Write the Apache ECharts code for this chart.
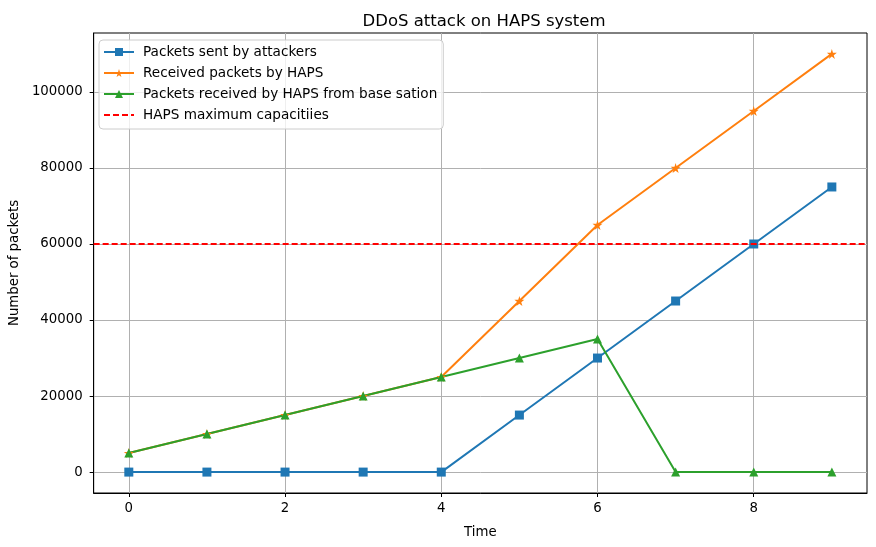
<!DOCTYPE html>
<html>
<head>
<meta charset="utf-8">
<script src="https://cdn.jsdelivr.net/npm/echarts@6/dist/echarts.min.js"></script>
<style>
  html, body { margin: 0; padding: 0; background: #fff; }
  #chart { width: 876px; height: 547px; }
</style>
</head>
<body>
<div id="chart"></div>
<script>
  const times = [0, 1, 2, 3, 4, 5, 6, 7, 8, 9]
  const sentByAttackers = [0, 0, 0, 0, 0, 15000, 30000, 45000, 60000, 75000]
  const receivedByHaps = [5000, 10000, 15000, 20000, 25000, 45000, 65000, 80000, 95000, 110000]
  const fromBaseStation = [5000, 10000, 15000, 20000, 25000, 30000, 35000, 0, 0, 0]
  const hapsCapacity = 60000
  const xTicks = [0, 2, 4, 6, 8]
  const yTicks = [0, 20000, 40000, 60000, 80000, 100000]

  const font = 'DejaVu Sans'
  const fs = 13.3
  const star = 'path://M50,0 L61,35 L98,35 L68,57 L79,91 L50,70 L21,91 L32,57 L2,35 L39,35 Z'

  const pairs = (vals) => times.map((t, i) => [t, vals[i]])

  const chart = echarts.init(document.getElementById('chart'))

  const option = {
    animation: false,
    textStyle: { fontFamily: font },
    title: {
      text: 'DDoS attack on HAPS system',
      left: 479,
      textAlign: 'center',
      top: 8,
      textStyle: { fontFamily: font, fontSize: 16.5, fontWeight: 'normal', color: '#000' }
    },
    grid: {
      left: 92, right: 9, top: 33, bottom: 54,
      show: true, borderColor: '#000', borderWidth: 1
    },
    legend: {
      orient: 'vertical',
      left: 99, top: 40,
      itemWidth: 30, itemHeight: 10,
      itemGap: 7,
      padding: [5, 6, 7, 4],
      backgroundColor: 'rgba(255,255,255,0.8)',
      borderColor: '#cccccc', borderWidth: 1, borderRadius: 4,
      textStyle: { fontFamily: font, fontSize: 13.6, color: '#000', padding: [0, 0, 0, 4] },
      data: [
        'Packets sent by attackers',
        'Received packets by HAPS',
        'Packets received by HAPS from base sation',
        { name: 'HAPS maximum capacitiies', itemStyle: { opacity: 0 } }
      ]
    },
    xAxis: {
      type: 'value',
      min: -0.45, max: 9.45,
      name: 'Time',
      nameLocation: 'middle',
      nameGap: 33,
      nameTextStyle: { fontFamily: font, fontSize: fs, color: '#000' },
      axisLine: { show: true, onZero: false, lineStyle: { color: '#000' } },
      axisTick: { show: true, length: 4, lineStyle: { color: '#000' }, customValues: xTicks },
      axisLabel: { fontFamily: font, fontSize: fs, color: '#000', margin: 9, customValues: xTicks },
      splitLine: { show: true, lineStyle: { color: '#b0b0b0', width: 1 } }
    },
    yAxis: {
      type: 'value',
      min: -5500, max: 115500,
      name: 'Number of packets',
      nameLocation: 'middle',
      nameGap: 67,
      nameTextStyle: { fontFamily: font, fontSize: fs, color: '#000' },
      axisLine: { show: true, onZero: false, lineStyle: { color: '#000' } },
      axisTick: { show: true, length: 4, lineStyle: { color: '#000' }, customValues: yTicks },
      axisLabel: {
        fontFamily: font, fontSize: fs, color: '#000', margin: 11,
        customValues: yTicks,
        formatter: (v) => String(v)
      },
      splitLine: { show: true, lineStyle: { color: '#b0b0b0', width: 1 } }
    },
    series: [
      {
        name: 'Packets sent by attackers',
        type: 'line',
        data: pairs(sentByAttackers),
        symbol: 'rect', symbolSize: 9,
        lineStyle: { color: '#1f77b4', width: 2 },
        itemStyle: { color: '#1f77b4', borderWidth: 0 }
      },
      {
        name: 'Received packets by HAPS',
        type: 'line',
        data: pairs(receivedByHaps),
        symbol: star, symbolSize: 10,
        lineStyle: { color: '#ff7f0e', width: 2 },
        itemStyle: { color: '#ff7f0e', borderWidth: 0 }
      },
      {
        name: 'Packets received by HAPS from base sation',
        type: 'line',
        data: pairs(fromBaseStation),
        symbol: 'triangle', symbolSize: 9,
        lineStyle: { color: '#2ca02c', width: 2 },
        itemStyle: { color: '#2ca02c', borderWidth: 0 }
      },
      {
        name: 'HAPS maximum capacitiies',
        type: 'line',
        data: [],
        symbol: 'none',
        lineStyle: { color: '#ff0000', width: 2, type: [6, 3] },
        itemStyle: { color: '#ff0000' },
        markLine: {
          silent: true,
          symbol: 'none',
          label: { show: false },
          lineStyle: { color: '#ff0000', width: 2, type: [6, 3] },
          data: [{ yAxis: hapsCapacity }]
        }
      }
    ]
  }

  chart.setOption(option)
  window.addEventListener('resize', chart.resize)
</script>
</body>
</html>
